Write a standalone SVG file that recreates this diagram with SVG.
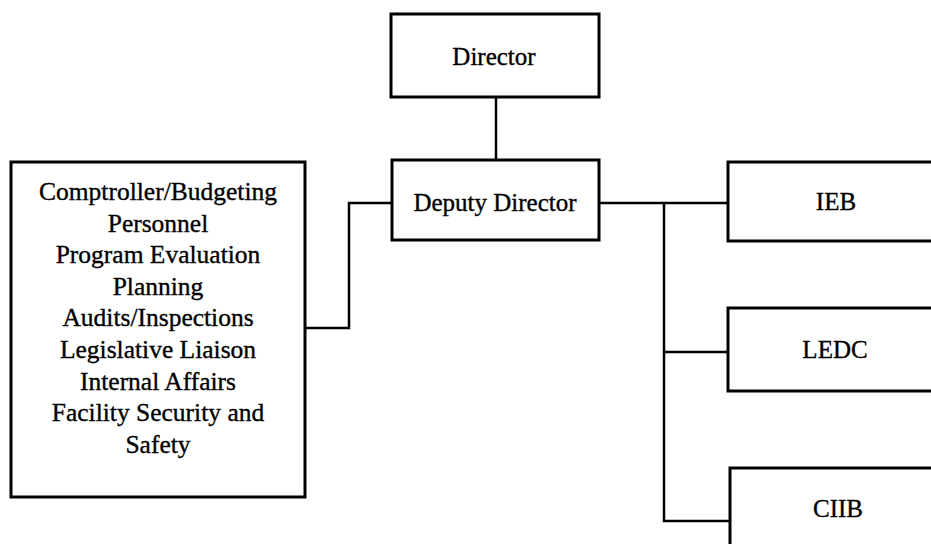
<svg xmlns="http://www.w3.org/2000/svg" width="931" height="544" viewBox="0 0 931 544">
<style>
.box{fill:#fff;stroke:#000;stroke-width:3}
.ln{fill:none;stroke:#000;stroke-width:2.5}
text{font-family:"Liberation Serif","Times New Roman",serif;font-size:25px;fill:#000;stroke:#000;stroke-width:0.35;text-anchor:middle}
.big{font-size:25.5px}
</style>
<rect width="931" height="544" fill="#fff"/>
<g id="connectors">
<path class="ln" d="M496,97 V160"/>
<path class="ln" d="M392,203 H349 V328 H305"/>
<path class="ln" d="M599,203 H728"/>
<path class="ln" d="M664,203 V521 H730"/>
<path class="ln" d="M664,352 H728"/>
</g>
<g id="director">
<rect class="box" x="391" y="14" width="208" height="83"/>
<text x="494" y="65">Director</text>
</g>
<g id="deputy">
<rect class="box" x="392" y="160" width="207" height="80"/>
<text x="495" y="211">Deputy Director</text>
</g>
<g id="staff">
<rect class="box" x="11" y="162" width="294" height="335"/>
<text class="big" x="158" y="200">Comptroller/Budgeting</text>
<text class="big" x="158" y="231.6">Personnel</text>
<text class="big" x="158" y="263.2">Program Evaluation</text>
<text class="big" x="158" y="294.8">Planning</text>
<text class="big" x="158" y="326.4">Audits/Inspections</text>
<text class="big" x="158" y="358">Legislative Liaison</text>
<text class="big" x="158" y="389.6">Internal Affairs</text>
<text class="big" x="158" y="421.2">Facility Security and</text>
<text class="big" x="158" y="452.8">Safety</text>
</g>
<g id="ieb">
<rect class="box" x="728" y="162" width="230" height="79"/>
<text x="836" y="210">IEB</text>
</g>
<g id="ledc">
<rect class="box" x="728" y="308" width="230" height="83"/>
<text x="835" y="358">LEDC</text>
</g>
<g id="ciib">
<rect class="box" x="730" y="468" width="230" height="100"/>
<text x="838" y="517">CIIB</text>
</g>
</svg>
